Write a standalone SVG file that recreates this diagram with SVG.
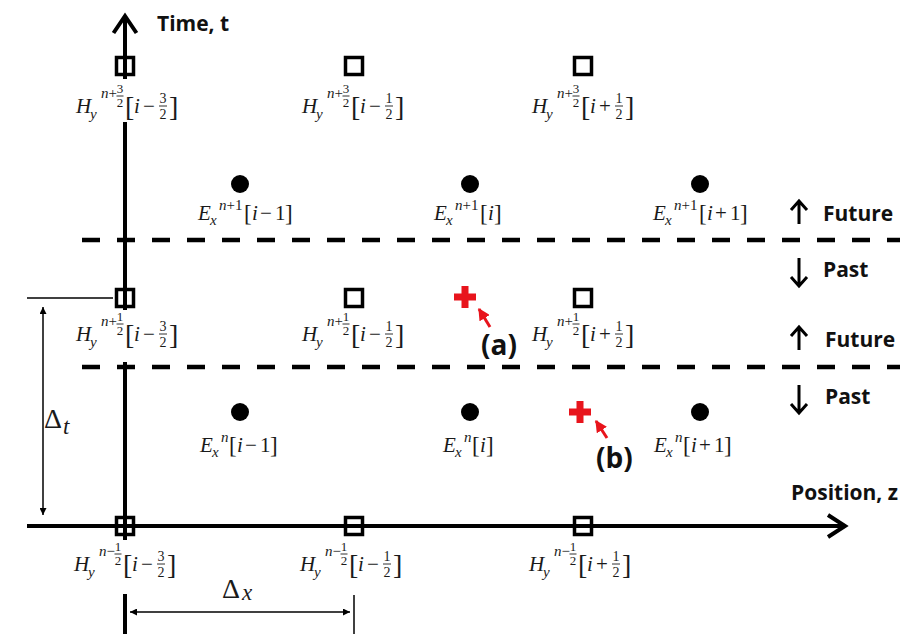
<svg xmlns="http://www.w3.org/2000/svg" width="911" height="634" viewBox="0 0 911 634">
<defs>
<style>
.ax{stroke:#000;stroke-width:4;fill:none}
.thin{stroke:#000;stroke-width:1.5;fill:none}
.dash{stroke:#000;stroke-width:4.5;stroke-dasharray:18 17;fill:none}
.sq{fill:none;stroke:#000;stroke-width:3.5}
.dot{fill:#000}
text{font-family:"Liberation Serif","Times New Roman","DejaVu Serif",serif;fill:#1a1a1a}
.m{font-style:italic;font-size:21px}
.s{font-style:italic;font-size:15px}
.sr{font-style:normal;font-size:15px}
.r{font-size:21px}
.f{font-size:13px;text-anchor:middle}
.fb{font-size:14px;text-anchor:middle}
.br{font-size:28px}
.bre{font-size:23px}
.bar{stroke:#1a1a1a;stroke-width:0.9}
text.b{font-family:"Open Sans","Noto Sans","Liberation Sans",sans-serif;font-weight:700;font-size:21px;fill:#111}
text.ab{font-family:"Open Sans","Noto Sans","Liberation Sans",sans-serif;font-weight:700;font-size:28px;fill:#111}
.ra{stroke:#000;stroke-width:3;fill:none}
.red{stroke:#e8141c;stroke-width:7;fill:none}
.redl{stroke:#e8141c;stroke-width:3;fill:none}
.dl{font-size:28px}
.dls{font-style:italic;font-size:23px}
</style>
<marker id="ah" viewBox="0 0 10 10" refX="10" refY="5" markerWidth="7" markerHeight="7" markerUnits="userSpaceOnUse" orient="auto-start-reverse">
<path d="M0,0 L10,5 L0,10 z" fill="#000"/>
</marker>
<marker id="rh" viewBox="0 0 10 10" refX="9" refY="5" markerWidth="12" markerHeight="12" markerUnits="userSpaceOnUse" orient="auto">
<path d="M0,0 L10,5 L0,10 z" fill="#e8141c"/>
</marker>
</defs>
<rect width="911" height="634" fill="#fff"/>

<g id="connectors">
<path class="ax" d="M125,16 V79 M125,122 V310 M125,362 V540 M125,594 V634"/>
<polyline class="ax" points="113.5,33 125,16 136.5,33"/>
<path class="ax" d="M27,526 H844"/>
<polyline class="ax" points="828,515 845,526 828,537"/>
<path class="dash" d="M82,240 H900"/>
<path class="dash" d="M82,367 H900"/>
<path class="thin" d="M27,298 H113"/>
<path class="thin" d="M43,307 V515" marker-start="url(#ah)" marker-end="url(#ah)"/>
<path class="thin" d="M130,612 H350" marker-start="url(#ah)" marker-end="url(#ah)"/>
<path class="thin" d="M354,595 V634"/>
<path class="ra" d="M799,224 V202 M791,210 L799,201 L807,210"/>
<path class="ra" d="M799,258 V285 M791,277 L799,286 L807,277"/>
<path class="ra" d="M799,350 V328 M791,336 L799,327 L807,336"/>
<path class="ra" d="M799,385 V412 M791,404 L799,413 L807,404"/>
</g>

<g id="axis-labels">
<text class="b" x="157" y="31">Time, t</text>
<text class="b" x="791" y="500">Position, z</text>
<text class="b" x="823" y="221">Future</text>
<text class="b" x="823" y="277">Past</text>
<text class="b" x="825" y="347">Future</text>
<text class="b" x="825" y="404">Past</text>
<text class="dl" x="44" y="428">Δ</text><text class="dls" x="63" y="434">t</text>
<text class="dl" x="222" y="598">Δ</text><text class="dls" x="242" y="600">x</text>
</g>

<g id="H-top-1">
<rect class="sq" x="116.5" y="57.5" width="17" height="17"/>
<g transform="translate(76,113)">
<text class="m" x="0" y="0">H</text><text class="s" x="14" y="6">y</text>
<text class="s" x="25" y="-15">n<tspan class="sr">+</tspan></text>
<text class="f" x="44" y="-20">3</text><line class="bar" x1="40.5" x2="47.5" y1="-17" y2="-17"/><text class="f" x="44" y="-6">2</text>
<text class="br" x="49" y="3">[</text><text class="m" x="58" y="0">i</text><text class="r" x="67" y="0">−</text>
<text class="fb" x="87" y="-10">3</text><line class="bar" x1="83" x2="91" y1="-7" y2="-7"/><text class="fb" x="87" y="6">2</text>
<text class="br" x="93" y="3">]</text>
</g>
</g>
<g id="H-top-2">
<rect class="sq" x="345.5" y="57.5" width="17" height="17"/>
<g transform="translate(302,113)">
<text class="m" x="0" y="0">H</text><text class="s" x="14" y="6">y</text>
<text class="s" x="25" y="-15">n<tspan class="sr">+</tspan></text>
<text class="f" x="44" y="-20">3</text><line class="bar" x1="40.5" x2="47.5" y1="-17" y2="-17"/><text class="f" x="44" y="-6">2</text>
<text class="br" x="49" y="3">[</text><text class="m" x="58" y="0">i</text><text class="r" x="67" y="0">−</text>
<text class="fb" x="87" y="-10">1</text><line class="bar" x1="83" x2="91" y1="-7" y2="-7"/><text class="fb" x="87" y="6">2</text>
<text class="br" x="93" y="3">]</text>
</g>
</g>
<g id="H-top-3">
<rect class="sq" x="574.5" y="57.5" width="17" height="17"/>
<g transform="translate(532,113)">
<text class="m" x="0" y="0">H</text><text class="s" x="14" y="6">y</text>
<text class="s" x="25" y="-15">n<tspan class="sr">+</tspan></text>
<text class="f" x="44" y="-20">3</text><line class="bar" x1="40.5" x2="47.5" y1="-17" y2="-17"/><text class="f" x="44" y="-6">2</text>
<text class="br" x="49" y="3">[</text><text class="m" x="58" y="0">i</text><text class="r" x="67" y="0">+</text>
<text class="fb" x="87" y="-10">1</text><line class="bar" x1="83" x2="91" y1="-7" y2="-7"/><text class="fb" x="87" y="6">2</text>
<text class="br" x="93" y="3">]</text>
</g>
</g>

<g id="H-mid-1">
<rect class="sq" x="116.5" y="289.5" width="17" height="17"/>
<g transform="translate(76,341)">
<text class="m" x="0" y="0">H</text><text class="s" x="14" y="6">y</text>
<text class="s" x="25" y="-15">n<tspan class="sr">+</tspan></text>
<text class="f" x="44" y="-20">1</text><line class="bar" x1="40.5" x2="47.5" y1="-17" y2="-17"/><text class="f" x="44" y="-6">2</text>
<text class="br" x="49" y="3">[</text><text class="m" x="58" y="0">i</text><text class="r" x="67" y="0">−</text>
<text class="fb" x="87" y="-10">3</text><line class="bar" x1="83" x2="91" y1="-7" y2="-7"/><text class="fb" x="87" y="6">2</text>
<text class="br" x="93" y="3">]</text>
</g>
</g>
<g id="H-mid-2">
<rect class="sq" x="345.5" y="289.5" width="17" height="17"/>
<g transform="translate(302,341)">
<text class="m" x="0" y="0">H</text><text class="s" x="14" y="6">y</text>
<text class="s" x="25" y="-15">n<tspan class="sr">+</tspan></text>
<text class="f" x="44" y="-20">1</text><line class="bar" x1="40.5" x2="47.5" y1="-17" y2="-17"/><text class="f" x="44" y="-6">2</text>
<text class="br" x="49" y="3">[</text><text class="m" x="58" y="0">i</text><text class="r" x="67" y="0">−</text>
<text class="fb" x="87" y="-10">1</text><line class="bar" x1="83" x2="91" y1="-7" y2="-7"/><text class="fb" x="87" y="6">2</text>
<text class="br" x="93" y="3">]</text>
</g>
</g>
<g id="H-mid-3">
<rect class="sq" x="574.5" y="289.5" width="17" height="17"/>
<g transform="translate(532,341)">
<text class="m" x="0" y="0">H</text><text class="s" x="14" y="6">y</text>
<text class="s" x="25" y="-15">n<tspan class="sr">+</tspan></text>
<text class="f" x="44" y="-20">1</text><line class="bar" x1="40.5" x2="47.5" y1="-17" y2="-17"/><text class="f" x="44" y="-6">2</text>
<text class="br" x="49" y="3">[</text><text class="m" x="58" y="0">i</text><text class="r" x="67" y="0">+</text>
<text class="fb" x="87" y="-10">1</text><line class="bar" x1="83" x2="91" y1="-7" y2="-7"/><text class="fb" x="87" y="6">2</text>
<text class="br" x="93" y="3">]</text>
</g>
</g>

<g id="H-bot-1">
<rect class="sq" x="116.5" y="517.5" width="17" height="17"/>
<g transform="translate(74,571)">
<text class="m" x="0" y="0">H</text><text class="s" x="14" y="6">y</text>
<text class="s" x="25" y="-15">n<tspan class="sr">−</tspan></text>
<text class="f" x="44" y="-20">1</text><line class="bar" x1="40.5" x2="47.5" y1="-17" y2="-17"/><text class="f" x="44" y="-6">2</text>
<text class="br" x="49" y="3">[</text><text class="m" x="58" y="0">i</text><text class="r" x="67" y="0">−</text>
<text class="fb" x="87" y="-10">3</text><line class="bar" x1="83" x2="91" y1="-7" y2="-7"/><text class="fb" x="87" y="6">2</text>
<text class="br" x="93" y="3">]</text>
</g>
</g>
<g id="H-bot-2">
<rect class="sq" x="345.5" y="517.5" width="17" height="17"/>
<g transform="translate(300,571)">
<text class="m" x="0" y="0">H</text><text class="s" x="14" y="6">y</text>
<text class="s" x="25" y="-15">n<tspan class="sr">−</tspan></text>
<text class="f" x="44" y="-20">1</text><line class="bar" x1="40.5" x2="47.5" y1="-17" y2="-17"/><text class="f" x="44" y="-6">2</text>
<text class="br" x="49" y="3">[</text><text class="m" x="58" y="0">i</text><text class="r" x="67" y="0">−</text>
<text class="fb" x="87" y="-10">1</text><line class="bar" x1="83" x2="91" y1="-7" y2="-7"/><text class="fb" x="87" y="6">2</text>
<text class="br" x="93" y="3">]</text>
</g>
</g>
<g id="H-bot-3">
<rect class="sq" x="574.5" y="517.5" width="17" height="17"/>
<g transform="translate(529,571)">
<text class="m" x="0" y="0">H</text><text class="s" x="14" y="6">y</text>
<text class="s" x="25" y="-15">n<tspan class="sr">−</tspan></text>
<text class="f" x="44" y="-20">1</text><line class="bar" x1="40.5" x2="47.5" y1="-17" y2="-17"/><text class="f" x="44" y="-6">2</text>
<text class="br" x="49" y="3">[</text><text class="m" x="58" y="0">i</text><text class="r" x="67" y="0">+</text>
<text class="fb" x="87" y="-10">1</text><line class="bar" x1="83" x2="91" y1="-7" y2="-7"/><text class="fb" x="87" y="6">2</text>
<text class="br" x="93" y="3">]</text>
</g>
</g>

<g id="E-top-1">
<circle class="dot" cx="240" cy="184" r="9"/>
<g transform="translate(198,220)">
<text class="m" x="0" y="0">E</text><text class="s" x="12" y="5">x</text>
<text class="s" x="21" y="-10">n<tspan class="sr">+1</tspan></text>
<text class="bre" x="46" y="1">[</text><text class="m" x="54" y="0">i</text><text class="r" x="62" y="0">−</text><text class="r" x="77" y="0">1</text><text class="bre" x="87" y="1">]</text>
</g>
</g>
<g id="E-top-2">
<circle class="dot" cx="470" cy="184" r="9"/>
<g transform="translate(434,220)">
<text class="m" x="0" y="0">E</text><text class="s" x="12" y="5">x</text>
<text class="s" x="21" y="-10">n<tspan class="sr">+1</tspan></text>
<text class="bre" x="46" y="1">[</text><text class="m" x="54" y="0">i</text><text class="bre" x="60" y="1">]</text>
</g>
</g>
<g id="E-top-3">
<circle class="dot" cx="700" cy="184" r="9"/>
<g transform="translate(653,220)">
<text class="m" x="0" y="0">E</text><text class="s" x="12" y="5">x</text>
<text class="s" x="21" y="-10">n<tspan class="sr">+1</tspan></text>
<text class="bre" x="46" y="1">[</text><text class="m" x="54" y="0">i</text><text class="r" x="62" y="0">+</text><text class="r" x="77" y="0">1</text><text class="bre" x="87" y="1">]</text>
</g>
</g>
<g id="E-bot-1">
<circle class="dot" cx="240" cy="412" r="9"/>
<g transform="translate(200,452)">
<text class="m" x="0" y="0">E</text><text class="s" x="12" y="5">x</text>
<text class="s" x="21" y="-10">n</text>
<text class="bre" x="29" y="1">[</text><text class="m" x="37" y="0">i</text><text class="r" x="45" y="0">−</text><text class="r" x="60" y="0">1</text><text class="bre" x="70" y="1">]</text>
</g>
</g>
<g id="E-bot-2">
<circle class="dot" cx="470" cy="412" r="9"/>
<g transform="translate(443,452)">
<text class="m" x="0" y="0">E</text><text class="s" x="12" y="5">x</text>
<text class="s" x="21" y="-10">n</text>
<text class="bre" x="29" y="1">[</text><text class="m" x="37" y="0">i</text><text class="bre" x="43" y="1">]</text>
</g>
</g>
<g id="E-bot-3">
<circle class="dot" cx="700" cy="412" r="9"/>
<g transform="translate(654,452)">
<text class="m" x="0" y="0">E</text><text class="s" x="12" y="5">x</text>
<text class="s" x="21" y="-10">n</text>
<text class="bre" x="29" y="1">[</text><text class="m" x="37" y="0">i</text><text class="r" x="45" y="0">+</text><text class="r" x="60" y="0">1</text><text class="bre" x="70" y="1">]</text>
</g>
</g>

<g id="mark-a">
<path class="red" d="M454,297 H476 M465,286 V308"/>
<path class="redl" d="M490,327 L479,309" marker-end="url(#rh)"/>
<text class="ab" x="481" y="355">(a)</text>
</g>
<g id="mark-b">
<path class="red" d="M569,412 H591 M580,401 V423"/>
<path class="redl" d="M607,438 L596,421" marker-end="url(#rh)"/>
<text class="ab" x="596" y="468">(b)</text>
</g>
</svg>
